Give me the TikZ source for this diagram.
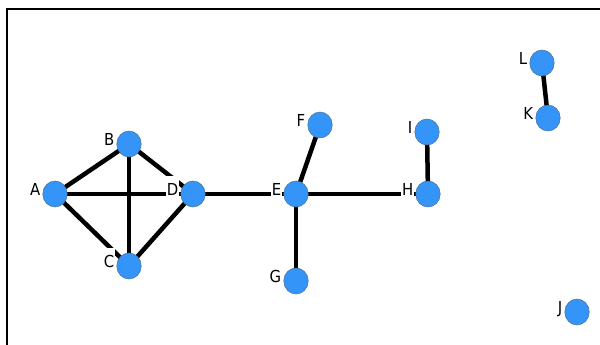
\documentclass[tikz,border=0pt]{standalone}
\usepackage{fontspec}
\setmainfont{DejaVu Sans Condensed}
\usetikzlibrary{backgrounds,shapes.geometric}
\definecolor{nodeblue}{HTML}{3594F7}
\definecolor{nodeedge}{HTML}{4A6F99}
\tikzset{
  vert/.style={ellipse, fill=nodeblue, draw=nodeedge, line width=0.5pt,
    minimum width=24.5pt, minimum height=26pt, inner sep=0pt,
    label={[lbl]left:#1}},
  lbl/.style={fill=white, inner sep=0.6pt, label distance=1.5pt, yshift=6.7pt,
    text height=19.4pt, text depth=2pt, font=\fontsize{16.5}{16.5}\selectfont},
  edge/.style={line width=4.5pt, black},
  frame/.style={line width=1.5pt, black}
}
\begin{document}
\begin{tikzpicture}[x=1pt,y=1pt]
\useasboundingbox (0,0) rectangle (600,345);
\coordinate (fbl) at (7,0);
\coordinate (ftl) at (7,336);
\coordinate (ftr) at (600,336);
\draw[frame] (fbl) -- (ftl) -- (ftr);
% vertices (y = 345 - image y)
\node[vert=A] (A) at (55,151) {};
\node[vert=B] (B) at (129,201) {};
\node[vert=C] (C) at (129,79) {};
\node[vert=D] (D) at (193,151) {};
\node[vert=E] (E) at (296,151) {};
\node[vert=F] (F) at (320,220) {};
\node[vert=G] (G) at (296,64) {};
\node[vert=H] (H) at (428,151) {};
\node[vert=I] (I) at (427,213) {};
\node[vert=J] (J) at (577,33) {};
\node[vert=K] (K) at (548,227) {};
\node[vert=L] (L) at (542,282) {};
% edges
\begin{scope}[on background layer]
\draw[edge] (A.center) -- (B.center);
\draw[edge] (A.center) -- (C.center);
\draw[edge] (A.center) -- (D.center);
\draw[edge] (B.center) -- (C.center);
\draw[edge] (B.center) -- (D.center);
\draw[edge] (C.center) -- (D.center);
\draw[edge] (D.center) -- (E.center);
\draw[edge] (E.center) -- (F.center);
\draw[edge] (E.center) -- (G.center);
\draw[edge] (E.center) -- (H.center);
\draw[edge] (H.center) -- (I.center);
\draw[edge] (K.center) -- (L.center);
\end{scope}
\end{tikzpicture}
\end{document}
